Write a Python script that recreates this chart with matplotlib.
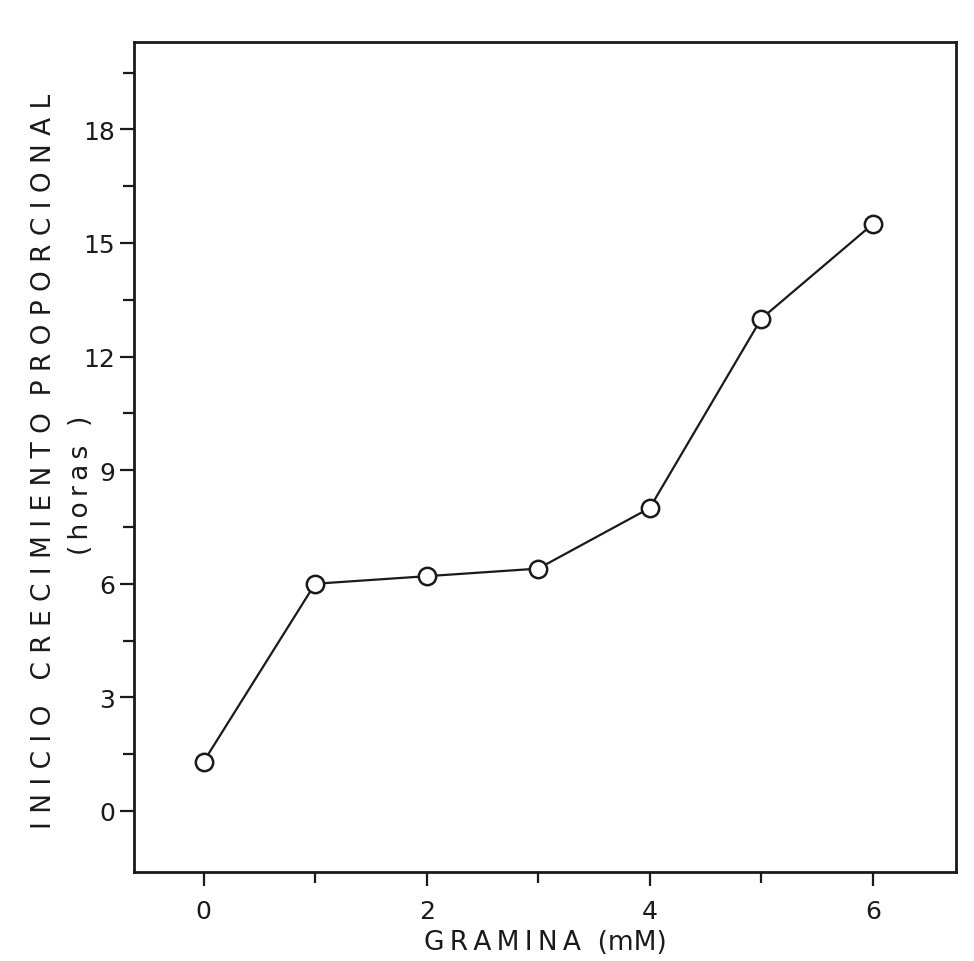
import matplotlib.pyplot as plt
import numpy as np
from matplotlib.ticker import FixedLocator, MultipleLocator

# gramina (mM) vs inicio crecimiento proporcional (horas)
gramina = [0, 1, 2, 3, 4, 5, 6]
inicio_horas = [1.3, 6.0, 6.2, 6.4, 8.0, 13.0, 15.5]

x_ticks = [0, 2, 4, 6]
y_ticks = [0, 3, 6, 9, 12, 15, 18]

plt.rcParams['font.family'] = 'DejaVu Sans'

fig = plt.figure(figsize=(9.74, 9.62), dpi=100)
ax = fig.add_axes([0.138, 0.093, 0.844, 0.862])

ax.plot(gramina, inicio_horas, color='#1a1a1a', linewidth=1.6,
        marker='o', markersize=12.5, markerfacecolor='white',
        markeredgecolor='#1a1a1a', markeredgewidth=1.8)

ax.set_xlim(-0.62, 6.75)
ax.set_ylim(-1.6, 20.3)

ax.set_xticks(x_ticks)
ax.set_xticklabels([str(v) for v in x_ticks])
ax.xaxis.set_minor_locator(MultipleLocator(1))
ax.set_yticks(y_ticks)
ax.set_yticklabels([str(v) for v in y_ticks])
# minor ticks every 1.5 h, none below zero
ax.yaxis.set_minor_locator(FixedLocator(np.arange(1.5, 20, 3)))

ax.tick_params(axis='both', which='major', direction='out', length=10,
               width=1.6, labelsize=18, color='#1a1a1a', labelcolor='#1a1a1a')
ax.tick_params(axis='both', which='minor', direction='out', length=8,
               width=1.6, color='#1a1a1a')
ax.tick_params(axis='x', which='major', pad=10)
ax.tick_params(axis='y', which='major', pad=4)

for side in ['left', 'right', 'top', 'bottom']:
    ax.spines[side].set_linewidth(2.0)
    ax.spines[side].set_color('#1a1a1a')

ts = '\u2009'
ax.set_xlabel(ts.join("GRAMINA") + "  (mM)", fontsize=19, color='#1a1a1a', labelpad=4)

fig.text(0.045, 0.52, "I N I C I O   C R E C I M I E N T O  P R O P O R C I O N A L",
         rotation=90, ha='center', va='center', fontsize=19, color='#1a1a1a')
fig.text(0.083, 0.495, ts.join("(horas )"), rotation=90, ha='center', va='center',
         fontsize=19, color='#1a1a1a')

fig.savefig("out.png", dpi=100, facecolor='white')
